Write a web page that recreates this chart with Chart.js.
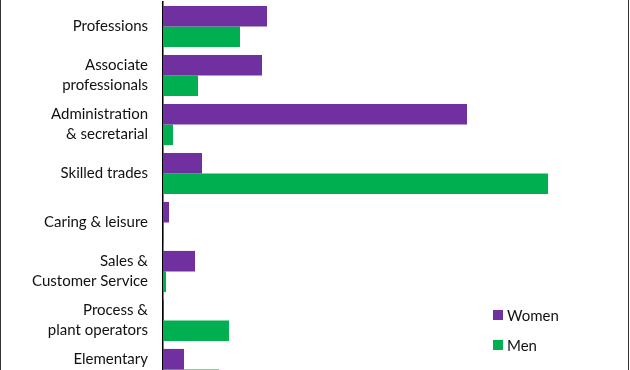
<!DOCTYPE html>
<html>
<head>
<meta charset="utf-8">
<script src="https://cdn.jsdelivr.net/npm/chart.js@4.4.0/dist/chart.umd.min.js"></script>
<style>
  html, body { margin: 0; padding: 0; overflow: hidden; background: #fff; }
  #chart { position: absolute; left: 0; top: 0; }
  .edge { position: absolute; top: 0; width: 1px; height: 370px; background: #333; }
  #legend { position: absolute; left: 493px; top: 300px; font-family: Lato, sans-serif; font-size: 15px; color: #111; }
  #legend div { height: 30px; display: flex; align-items: center; }
  #legend span.box { display: inline-block; width: 10px; height: 10px; margin-right: 4px; }
</style>
</head>
<body>
<canvas id="chart" width="630" height="400"></canvas>
<div class="edge" style="left:0"></div>
<div class="edge" style="left:628px"></div>
<div id="legend"></div>
<script>
// last label gets an empty second line so it sits a bit higher, like the original
const categories = [
    ["Professions"],
    ["Associate", "professionals"],
    ["Administration", "& secretarial"],
    ["Skilled trades"],
    ["Caring & leisure"],
    ["Sales &", "Customer Service"],
    ["Process &", "plant operators"],
    ["Elementary", ""]
];
const women = [10.4, 9.9, 30.4, 3.9, 0.6, 3.2, 0.1, 2.1];
const men = [7.7, 3.5, 1.0, 38.5, 0.1, 0.3, 6.6, 5.6];
const seriesNames = ["Women", "Men"];
const seriesColors = ["#7030A0", "#00B050"];

const chart = new Chart(document.getElementById('chart'), {
    type: 'bar',
    data: {
        labels: categories,
        datasets: [
            { label: seriesNames[0], data: women, backgroundColor: seriesColors[0], borderWidth: 0 },
            { label: seriesNames[1], data: men, backgroundColor: seriesColors[1], borderWidth: 0 }
        ]
    },
    options: {
        indexAxis: 'y',
        responsive: false,
        animation: false,
        layout: { padding: { top: 2, bottom: 6, right: 17, left: 0 } },
        datasets: { bar: { categoryPercentage: 0.84, barPercentage: 1 } },
        plugins: { legend: { display: false }, tooltip: { enabled: false } },
        scales: {
            x: { min: 0, max: 45, display: false },
            y: {
                grid: { display: false, drawTicks: false },
                border: { display: true, color: '#000', width: 1.5 },
                ticks: {
                    padding: 15,
                    color: '#111',
                    font: { family: 'Lato, sans-serif', size: 15, lineHeight: 1.33 }
                },
                afterFit: function (axis) {
                    axis.width = 163;
                    axis.paddingTop = 0;
                    axis.paddingBottom = 0;
                }
            }
        }
    }
});

const legend = document.getElementById('legend');
seriesNames.forEach(function (name, i) {
    const row = document.createElement('div');
    row.innerHTML = '<span class="box" style="background:' + seriesColors[i] + '"></span>' + name;
    legend.appendChild(row);
});
</script>
</body>
</html>
